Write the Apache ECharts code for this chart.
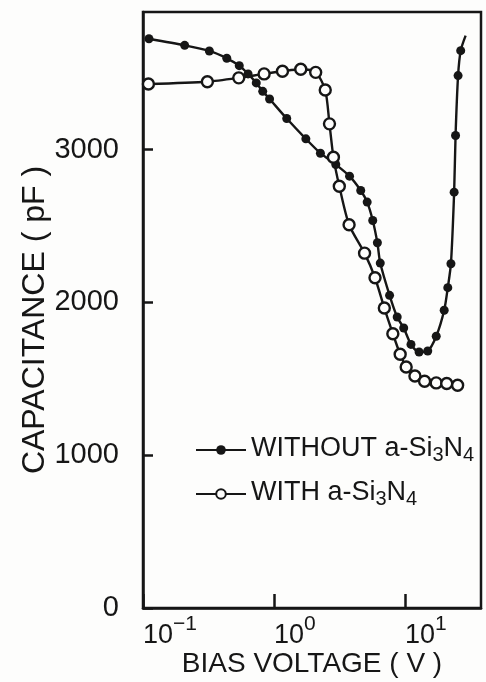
<!DOCTYPE html>
<html>
<head>
<meta charset="utf-8">
<title>Capacitance vs bias voltage</title>
<script src="https://cdn.jsdelivr.net/npm/echarts@6/dist/echarts.min.js"></script>
<style>
  html, body { margin: 0; padding: 0; background: #fdfdfc; }
  #chart { width: 486px; height: 682px; }
</style>
</head>
<body>
<div id="chart"></div>
<script>
// bias voltage (V) and capacitance (pF)
const withoutVolts = [0.111, 0.208, 0.321, 0.436, 0.543, 0.634, 0.732, 0.820, 0.925, 1.25,
  1.75, 2.26, 2.96, 3.77, 4.59, 5.14, 5.67, 6.15, 6.47, 7.62, 8.71, 9.77, 11.1, 12.8,
  14.9, 17.3, 19.9, 21.2, 22.4, 23.7, 24.3, 25.4, 26.6];
const withoutCap = [3725, 3682, 3645, 3597, 3549, 3495, 3436, 3381, 3331, 3203,
  3070, 2976, 2902, 2826, 2732, 2656, 2536, 2390, 2257, 2046, 1904, 1832, 1725, 1675,
  1682, 1778, 1948, 2096, 2253, 2721, 3092, 3484, 3647];
// the curve runs on a little past the last measured point
const withoutTail = [29.0, 3745];

const withVolts = [0.110, 0.310, 0.538, 0.840, 1.16, 1.60, 2.08, 2.46, 2.65, 2.84,
  3.15, 3.74, 4.91, 5.90, 6.95, 8.07, 9.18, 10.2, 11.9, 14.1, 17.3, 20.8, 25.2];
const withCap = [3429, 3444, 3469, 3495, 3512, 3525, 3505, 3390, 3168, 2950,
  2760, 2508, 2322, 2161, 1963, 1795, 1660, 1577, 1518, 1484, 1473, 1469, 1458];

const seriesNames = ['WITHOUT a-Si3N4', 'WITH a-Si3N4'];

const ink = '#161616';
const font = '"Liberation Sans", Arial, sans-serif';

const pairs = (xs, ys) => xs.map((x, i) => [x, ys[i]]);

const withoutData = pairs(withoutVolts, withoutCap);
withoutData.push({ value: withoutTail, symbol: 'none' });

const chart = echarts.init(document.getElementById('chart'));

const option = {
  animation: false,
  backgroundColor: '#fdfdfc',
  grid: {
    left: 143,
    right: 5,
    top: 12,
    bottom: 74,
    outerBoundsMode: 'none',
    containLabel: false,
    show: true,
    borderColor: ink,
    borderWidth: 2.5,
    backgroundColor: 'transparent'
  },
  legend: {
    orient: 'vertical',
    left: 190,
    top: 430,
    itemWidth: 50,
    itemHeight: 12,
    itemGap: 14,
    data: seriesNames,
    formatter: (name) => {
      // subscripts on Si3N4
      const m = name.match(/^(.*Si)3N4$/);
      return '{t|' + m[1] + '}{sub|3}{t|N}{sub|4}';
    },
    textStyle: {
      color: ink,
      rich: {
        t: { fontFamily: font, fontSize: 27, color: ink, verticalAlign: 'top' },
        sub: { fontFamily: font, fontSize: 20, color: ink, verticalAlign: 'top', padding: [10, 0, 0, 0] }
      }
    }
  },
  xAxis: {
    type: 'log',
    logBase: 10,
    min: 0.1,
    max: 38,
    name: 'BIAS VOLTAGE ( V )',
    nameLocation: 'middle',
    nameGap: 42,
    nameMoveOverlap: false,
    nameTextStyle: { fontFamily: font, fontSize: 28, color: ink },
    axisLine: { lineStyle: { color: ink, width: 2.5 } },
    axisTick: { inside: true, length: 14, lineStyle: { color: ink, width: 2.5 } },
    minorTick: { show: false },
    splitLine: { show: false },
    axisLabel: {
      showMaxLabel: false,
      align: 'left',
      margin: 6,
      formatter: (v) => {
        const e = Math.round(Math.log10(v));
        return '{b|10}{s|' + (e < 0 ? '\u2212' + (-e) : e) + '}';
      },
      rich: {
        b: { fontFamily: font, fontSize: 27, color: ink, verticalAlign: 'bottom' },
        s: { fontFamily: font, fontSize: 21, color: ink, verticalAlign: 'bottom', padding: [0, 0, 14, 0] }
      }
    }
  },
  yAxis: {
    type: 'value',
    min: 0,
    max: 3900,
    interval: 1000,
    name: 'CAPACITANCE ( pF )',
    nameLocation: 'middle',
    nameGap: 92,
    nameMoveOverlap: false,
    nameTextStyle: { fontFamily: font, fontSize: 32, color: ink, padding: [0, 20, 0, 0] },
    axisLine: { show: true, lineStyle: { color: ink, width: 2.5 } },
    axisTick: { inside: true, length: 10, lineStyle: { color: ink, width: 2.5 } },
    splitLine: { show: false },
    axisLabel: {
      showMaxLabel: false,
      margin: 24,
      fontFamily: font,
      fontSize: 29,
      color: ink,
      formatter: (v) => String(v)
    }
  },
  series: [
    {
      name: seriesNames[0],
      type: 'line',
      data: withoutData,
      smooth: 0.25,
      symbol: 'circle',
      symbolSize: 9,
      lineStyle: { color: ink, width: 2.4 },
      itemStyle: { color: ink, borderColor: ink, borderWidth: 0 }
    },
    {
      name: seriesNames[1],
      type: 'line',
      data: pairs(withVolts, withCap),
      smooth: 0.25,
      symbol: 'circle',
      symbolSize: 11,
      lineStyle: { color: ink, width: 2.4 },
      itemStyle: { color: '#fdfdfc', borderColor: ink, borderWidth: 2.4 }
    }
  ]
};

chart.setOption(option);
</script>
</body>
</html>
